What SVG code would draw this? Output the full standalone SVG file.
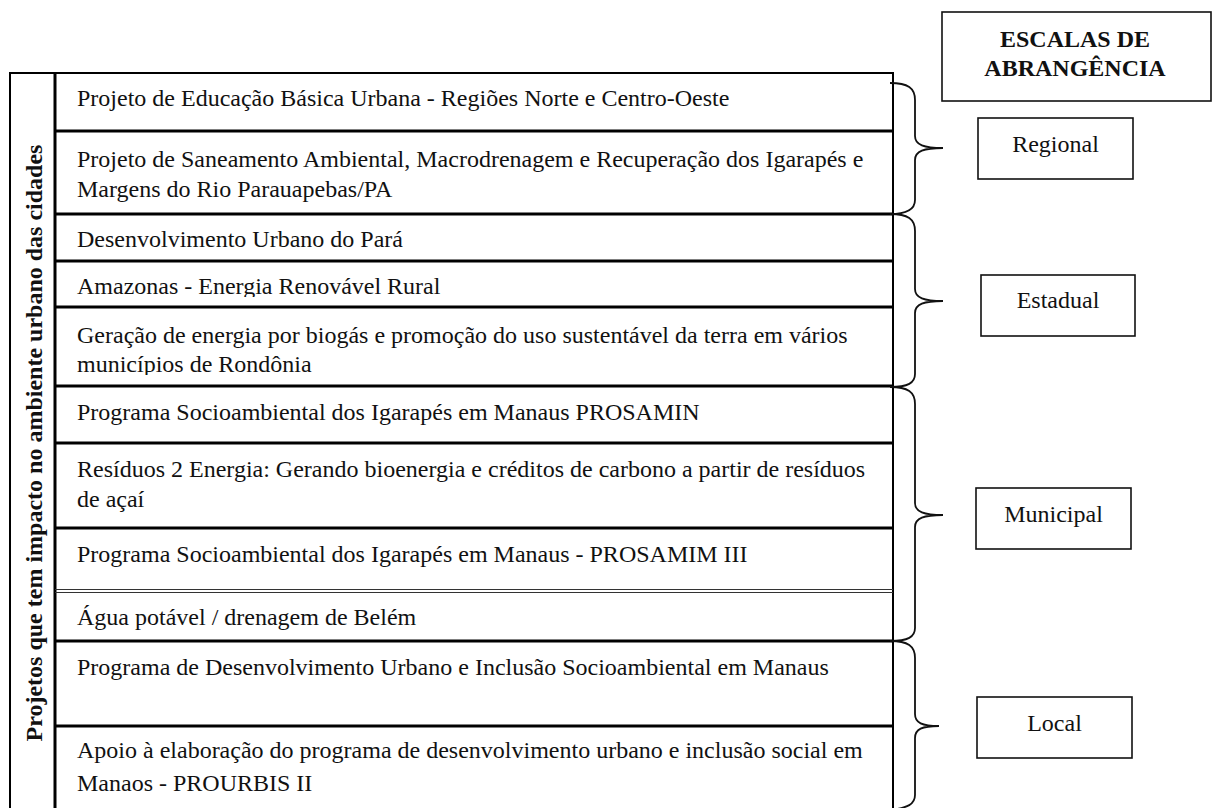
<svg xmlns="http://www.w3.org/2000/svg" width="1214" height="808" viewBox="0 0 1214 808">
<style>
.t{font-family:"Liberation Serif","Times New Roman",serif;font-size:24px;fill:#111}
.b{font-weight:bold}
.c{text-anchor:middle}
.sep{stroke:#000;stroke-width:3;fill:none}
.box{fill:#fff;stroke:#111;stroke-width:1.6}
.br{fill:none;stroke:#111;stroke-width:1.8}
</style>
<defs>
<clipPath id="c4"><rect x="56" y="262" width="836" height="35"/></clipPath>
<clipPath id="c5"><rect x="56" y="308" width="836" height="67"/></clipPath>
</defs>
<rect width="1214" height="808" fill="#fff"/>
<g id="table">
<rect x="10" y="73" width="883" height="760" fill="none" stroke="#000" stroke-width="2"/>
<line class="sep" x1="55" y1="73" x2="55" y2="808"/>
<line class="sep" x1="55" y1="131" x2="893" y2="131"/>
<line class="sep" x1="55" y1="214" x2="893" y2="214"/>
<line class="sep" x1="55" y1="261" x2="893" y2="261"/>
<line class="sep" x1="55" y1="307" x2="893" y2="307"/>
<line class="sep" x1="55" y1="386" x2="893" y2="386"/>
<line class="sep" x1="55" y1="443" x2="893" y2="443"/>
<line class="sep" x1="55" y1="528" x2="893" y2="528"/>
<line x1="55" y1="589.5" x2="893" y2="589.5" stroke="#333" stroke-width="1.2"/>
<line x1="55" y1="592.5" x2="893" y2="592.5" stroke="#333" stroke-width="1.2"/>
<line class="sep" x1="55" y1="641" x2="893" y2="641"/>
<line class="sep" x1="55" y1="726" x2="893" y2="726"/>
</g>
<g id="side-label">
<text class="t b c" transform="translate(42,443) rotate(-90)">Projetos que tem impacto no ambiente urbano das cidades</text>
</g>
<g id="row1"><text class="t" x="77" y="106">Projeto de Educação Básica Urbana - Regiões Norte e Centro-Oeste</text></g>
<g id="row2"><text class="t" x="77" y="167">Projeto de Saneamento Ambiental, Macrodrenagem e Recuperação dos Igarapés e</text><text class="t" x="77" y="197">Margens do Rio Parauapebas/PA</text></g>
<g id="row3"><text class="t" x="77" y="247">Desenvolvimento Urbano do Pará</text></g>
<g id="row4" clip-path="url(#c4)"><text class="t" x="77" y="294">Amazonas - Energia Renovável Rural</text></g>
<g id="row5" clip-path="url(#c5)"><text class="t" x="77" y="343">Geração de energia por biogás e promoção do uso sustentável da terra em vários</text><text class="t" x="77" y="372">municípios de Rondônia</text></g>
<g id="row6"><text class="t" x="77" y="420">Programa Socioambiental dos Igarapés em Manaus PROSAMIN</text></g>
<g id="row7"><text class="t" x="77" y="477">Resíduos 2 Energia: Gerando bioenergia e créditos de carbono a partir de resíduos</text><text class="t" x="77" y="507">de açaí</text></g>
<g id="row8"><text class="t" x="77" y="562">Programa Socioambiental dos Igarapés em Manaus - PROSAMIM III</text></g>
<g id="row9"><text class="t" x="77" y="625">Água potável / drenagem de Belém</text></g>
<g id="row10"><text class="t" x="77" y="675">Programa de Desenvolvimento Urbano e Inclusão Socioambiental em Manaus</text></g>
<g id="row11"><text class="t" x="77" y="758">Apoio à elaboração do programa de desenvolvimento urbano e inclusão social em</text><text class="t" x="77" y="791">Manaos - PROURBIS II</text></g>
<g id="connectors">
<path class="br" d="M890 83 C908 83 915 88 915 100 L915 136 C915 145 924 148 943 148 C924 148 915 151 915 160 L915 200 C915 209 908 214 890 214"/>
<path class="br" d="M890 214 C908 214 915 219 915 231 L915 289 C915 298 924 301 943 301 C924 301 915 304 915 313 L915 374 C915 383 908 387 890 387"/>
<path class="br" d="M890 387 C908 387 915 392 915 404 L915 503 C915 512 924 515 943 515 C924 515 915 518 915 527 L915 628 C915 637 908 641 890 641"/>
<path class="br" d="M890 641 C908 641 915 646 915 658 L915 714 C915 723 922 726 939 726 C922 726 915 729 915 738 L915 795 C915 804 908 808 890 810"/>
</g>
<g id="header"><rect class="box" x="942" y="12" width="269" height="89"/><text class="t b c" x="1075" y="47">ESCALAS DE</text><text class="t b c" x="1075" y="76">ABRANGÊNCIA</text></g>
<g id="regional"><rect class="box" x="978" y="118" width="155" height="61"/><text class="t c" x="1055.5" y="152">Regional</text></g>
<g id="estadual"><rect class="box" x="981" y="275" width="154" height="61"/><text class="t c" x="1058" y="308">Estadual</text></g>
<g id="municipal"><rect class="box" x="976" y="488" width="155" height="61"/><text class="t c" x="1053.5" y="522">Municipal</text></g>
<g id="local"><rect class="box" x="977" y="697" width="155" height="61"/><text class="t c" x="1054.5" y="731">Local</text></g>
</svg>
